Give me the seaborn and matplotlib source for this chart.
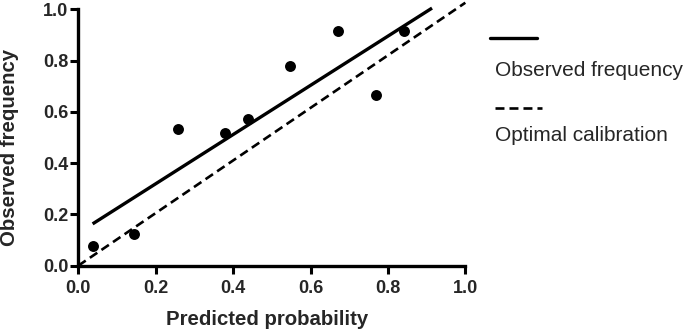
import matplotlib
matplotlib.use("Agg")
import matplotlib.pyplot as plt
import seaborn as sns
import pandas as pd
from matplotlib.lines import Line2D

# observed points (decile bins)
predicted = [0.039, 0.143, 0.257, 0.379, 0.438, 0.547, 0.672, 0.770, 0.842]
observed = [0.077, 0.124, 0.532, 0.519, 0.572, 0.779, 0.917, 0.666, 0.917]

# fitted line and ideal line endpoints
fit_x = [0.037, 0.914]
fit_y = [0.163, 1.005]
opt_x = [0.0, 1.0]
opt_y = [0.0, 1.026]

ticks = [0.0, 0.2, 0.4, 0.6, 0.8, 1.0]
tick_labels = ["0.0", "0.2", "0.4", "0.6", "0.8", "1.0"]

sns.set_style("ticks")
plt.rcParams['font.family'] = ['Liberation Sans', 'DejaVu Sans']

fig = plt.figure(figsize=(6.85, 3.35), dpi=100)
ax = fig.add_axes([0.1143, 0.207, 0.5650, 0.765])

pts = pd.DataFrame({"x": predicted, "y": observed})
sns.scatterplot(data=pts, x="x", y="y", ax=ax, color="black", s=62,
                edgecolor="black", linewidth=0, zorder=3)
sns.lineplot(x=fit_x, y=fit_y, ax=ax, color="black", linewidth=2.4,
             solid_capstyle="butt")
sns.lineplot(x=opt_x, y=opt_y, ax=ax, color="black", linewidth=1.9,
             linestyle=(0, (3.4, 1.9)))
for ln in ax.lines:
    ln.set_clip_on(False)

ax.set_xlim(0, 1.0)
ax.set_ylim(0, 1.0)
ax.set_xticks(ticks)
ax.set_xticklabels(tick_labels)
ax.set_yticks(ticks)
ax.set_yticklabels(tick_labels)
ax.tick_params(axis="both", direction="out", length=6, width=2.2,
               labelsize=13, color="black")
ax.tick_params(axis="y", pad=1)
ax.tick_params(axis="x", pad=4)
for lab in ax.get_xticklabels() + ax.get_yticklabels():
    lab.set_fontweight("bold")
sns.despine(ax=ax)
for side in ["left", "bottom"]:
    ax.spines[side].set_linewidth(2.4)
    ax.spines[side].set_color("black")

ax.set_xlabel("Predicted probability", fontsize=14.7, fontweight="bold")
ax.set_ylabel("Observed frequency", fontsize=14.7, fontweight="bold")
ax.xaxis.set_label_coords(0.489, -0.172)
ax.yaxis.set_label_coords(-0.152, 0.462)

# legend drawn by hand (sample line above text)
fig.add_artist(Line2D([490 / 685, 537 / 685], [1 - 38 / 335, 1 - 38 / 335],
                      color="black", linewidth=2.4, transform=fig.transFigure))
fig.text(495 / 685, 1 - 70 / 335, "Observed frequency", fontsize=15,
         va="center", ha="left")
fig.add_artist(Line2D([495 / 685, 542 / 685], [1 - 108 / 335, 1 - 108 / 335],
                      color="black", linewidth=1.9, linestyle=(0, (3.4, 1.9)),
                      transform=fig.transFigure))
fig.text(495 / 685, 1 - 135 / 335, "Optimal calibration", fontsize=15,
         va="center", ha="left")

fig.savefig("out.png", dpi=100)
